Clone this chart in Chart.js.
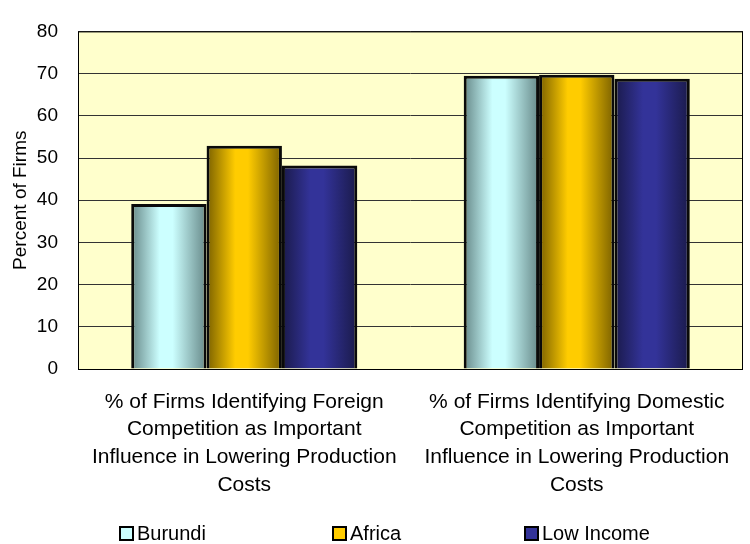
<!DOCTYPE html>
<html>
<head>
<meta charset="utf-8">
<script src="https://cdn.jsdelivr.net/npm/chart.js@4.4.1/dist/chart.umd.min.js"></script>
<style>
  html, body { margin: 0; padding: 0; background: #fff; }
  #wrap { width: 750px; height: 544px; position: relative; }
</style>
</head>
<body>
<div id="wrap"><canvas id="myChart" width="750" height="544"></canvas></div>
<script>
// data
const categories = [
    ['% of Firms Identifying Foreign', 'Competition as Important', 'Influence in Lowering Production', 'Costs'],
    ['% of Firms Identifying Domestic', 'Competition as Important', 'Influence in Lowering Production', 'Costs']
];
const seriesNames = ['Burundi', 'Africa', 'Low Income'];
const burundi = [39.1, 69.5];
const africa = [52.9, 69.7];
const lowIncome = [48.2, 68.8];
const yTicks = [0, 10, 20, 30, 40, 50, 60, 70, 80];

// styles
const FONT = 'Liberation Sans, Arial, sans-serif';
const CAT_PCT = 0.68;
const gradStops = [
    ['#668888', '#ccffff', '#ccffff', '#668888'],
    ['#7a6000', '#ffcc00', '#ffcc00', '#7a6000'],
    ['#1a1a4a', '#333399', '#333399', '#1a1a4a']
];
const legendFill = ['#ccffff', '#ffcc00', '#333399'];
const legendX = [120, 333, 525];

function barGradient(ctx) {
    const chart = ctx.chart;
    const stops = gradStops[ctx.datasetIndex];
    const x = chart.scales.x;
    if (!x || ctx.type !== 'data' || !chart.chartArea) return stops[1];
    const cat = x.width / categories.length;
    const group = cat * CAT_PCT;
    const bw = group / seriesNames.length;
    const left = x.getPixelForValue(ctx.dataIndex) - group / 2 + ctx.datasetIndex * bw;
    if (!isFinite(left) || !isFinite(bw) || bw <= 0) return stops[1];
    const g = chart.ctx.createLinearGradient(left, 0, left + bw, 0);
    g.addColorStop(0, stops[0]);
    g.addColorStop(0.38, stops[1]);
    g.addColorStop(0.55, stops[2]);
    g.addColorStop(1, stops[3]);
    return g;
}

function makeDataset(i, values) {
    return {
        label: seriesNames[i],
        data: values,
        backgroundColor: barGradient,
        borderColor: '#0a0a0a',
        borderWidth: 3,
        categoryPercentage: CAT_PCT,
        barPercentage: 1
    };
}

// plot background + frame
const plotFrame = {
    id: 'plotFrame',
    beforeDraw(chart) {
        const a = chart.chartArea, c = chart.ctx;
        c.save();
        c.fillStyle = '#ffffcc';
        c.fillRect(a.left, a.top, a.right - a.left, a.bottom - a.top);
        c.restore();
    },
    afterDraw(chart) {
        const a = chart.chartArea, c = chart.ctx;
        c.save();
        c.strokeStyle = '#000';
        c.lineWidth = 1;
        c.strokeRect(a.left + 0.5, a.top + 0.5, a.right - a.left - 1, a.bottom - a.top);
        c.restore();
    }
};

// legend laid out like the original (spread along the bottom)
const bottomLegend = {
    id: 'bottomLegend',
    afterDraw(chart) {
        const c = chart.ctx;
        const y = 533;
        c.save();
        c.font = '20px ' + FONT;
        c.textBaseline = 'middle';
        chart.data.datasets.forEach(function (ds, i) {
            const x = legendX[i];
            c.fillStyle = legendFill[i];
            c.fillRect(x, y - 6, 13, 13);
            c.strokeStyle = '#000';
            c.lineWidth = 2;
            c.strokeRect(x, y - 6, 13, 13);
            c.fillStyle = '#000';
            c.fillText(ds.label, x + 17, y + 1);
        });
        c.restore();
    }
};

const ctx = document.getElementById('myChart').getContext('2d');
const chart = new Chart(ctx, {
    type: 'bar',
    data: {
        labels: categories,
        datasets: [
            makeDataset(0, burundi),
            makeDataset(1, africa),
            makeDataset(2, lowIncome)
        ]
    },
    options: {
        responsive: false,
        animation: false,
        devicePixelRatio: 1,
        layout: { padding: { left: 5, right: 7, top: 21, bottom: 45 } },
        plugins: {
            colors: { enabled: false },
            legend: { display: false },
            tooltip: { enabled: false }
        },
        scales: {
            x: {
                grid: { display: false, drawTicks: false },
                border: { display: false },
                ticks: {
                    color: '#000',
                    padding: 19,
                    maxRotation: 0,
                    autoSkip: false,
                    font: { family: FONT, size: 21, lineHeight: 1.32 }
                },
                afterFit(s) { s.height = 130; }
            },
            y: {
                min: 0,
                max: 80,
                afterBuildTicks(s) { s.ticks = yTicks.map(v => ({ value: v })); },
                grid: { color: '#333', lineWidth: 1, drawTicks: false },
                border: { display: false },
                ticks: {
                    color: '#000',
                    padding: 20,
                    font: { family: FONT, size: 19 }
                },
                title: {
                    display: true,
                    text: 'Percent of Firms',
                    color: '#000',
                    padding: { top: 4, bottom: 0 },
                    font: { family: FONT, size: 19 }
                },
                afterFit(s) { s.width = 73; }
            }
        }
    },
    plugins: [plotFrame, bottomLegend]
});
</script>
</body>
</html>
